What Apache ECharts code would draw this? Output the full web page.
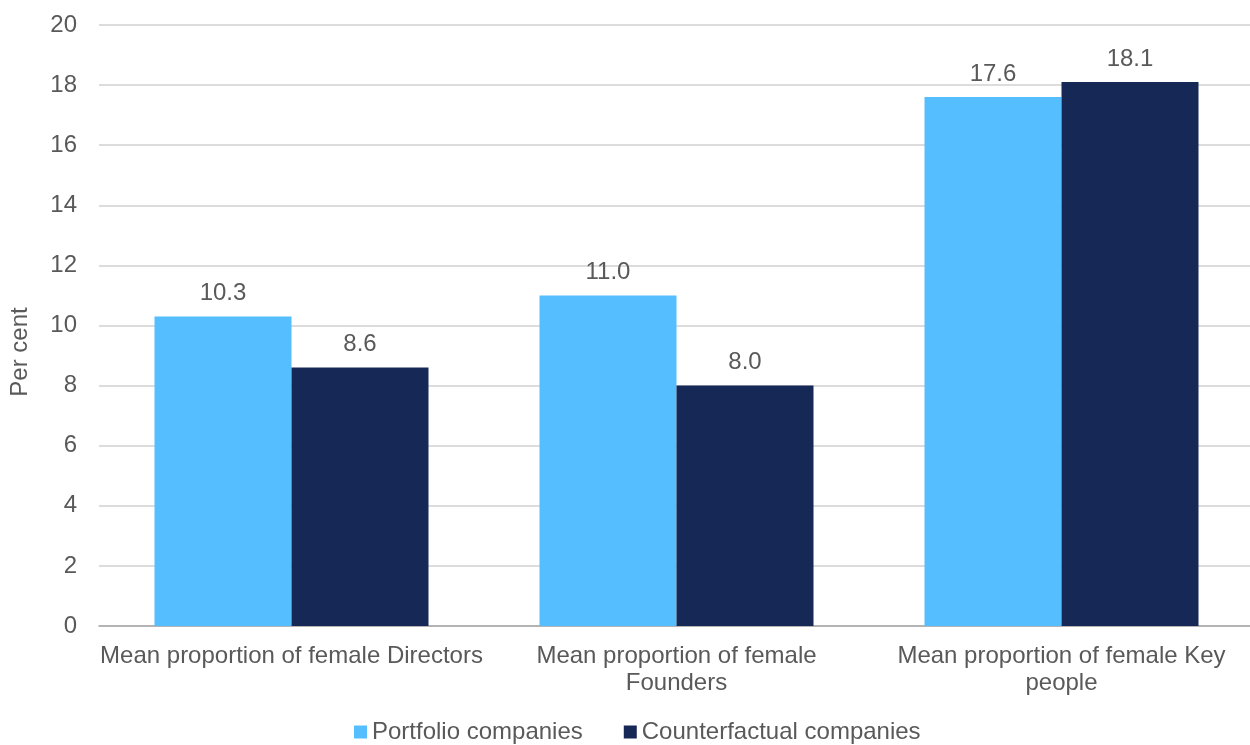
<!DOCTYPE html>
<html>
<head>
<meta charset="utf-8">
<script src="https://cdn.jsdelivr.net/npm/echarts@6/dist/echarts.min.js"></script>
<style>
  html, body { margin: 0; padding: 0; background: #ffffff; overflow: hidden; }
  #chart { width: 1254px; height: 745px; }
</style>
</head>
<body>
<div id="chart"></div>
<script>
// Categories and values (per cent)
const categories = [
  'Mean proportion of female Directors',
  'Mean proportion of female\nFounders',
  'Mean proportion of female Key\npeople'
];
const portfolio = [10.3, 11.0, 17.6];
const counterfactual = [8.6, 8.0, 18.1];
const seriesNames = ['Portfolio companies', 'Counterfactual companies'];
const yTicks = { min: 0, max: 20, interval: 2 };

const textColor = '#595959';
const fontFamily = '"Liberation Sans", Arial, sans-serif';
const fontSize = 24;

const chart = echarts.init(document.getElementById('chart'));

const valueLabel = {
  show: true,
  position: 'top',
  distance: 11,
  color: textColor,
  fontFamily: fontFamily,
  fontSize: fontSize,
  formatter: p => p.value.toFixed(1)
};

chart.setOption({
  animation: false,
  textStyle: { fontFamily: fontFamily },
  grid: { left: 99, right: 0, top: 25, height: 601, containLabel: false },
  legend: {
    top: 715,
    left: 349,
    itemWidth: 13,
    itemHeight: 13,
    itemGap: 41,
    icon: 'rect',
    textStyle: { color: textColor, fontSize: fontSize, fontFamily: fontFamily },
    data: seriesNames
  },
  graphic: [{
    type: 'text',
    x: 8,
    y: 352,
    rotation: Math.PI / 2,
    style: {
      text: 'Per cent',
      fill: textColor,
      font: fontSize + 'px ' + fontFamily,
      textAlign: 'center',
      textVerticalAlign: 'top'
    }
  }],
  xAxis: {
    type: 'category',
    data: categories,
    axisLine: { show: true, lineStyle: { color: '#a6a6a6', width: 1.5 } },
    axisTick: { show: false },
    axisLabel: {
      color: textColor,
      fontSize: fontSize,
      fontFamily: fontFamily,
      margin: 17,
      lineHeight: 27,
      interval: 0
    }
  },
  yAxis: {
    type: 'value',
    min: yTicks.min,
    max: yTicks.max,
    interval: yTicks.interval,
    axisLine: { show: false },
    axisTick: { show: false },
    splitLine: { lineStyle: { color: '#d0d0d0', width: 1.5 } },
    axisLabel: {
      color: textColor,
      fontSize: fontSize,
      fontFamily: fontFamily,
      margin: 22
    }
  },
  series: [
    {
      name: seriesNames[0],
      type: 'bar',
      data: portfolio,
      barWidth: 137,
      barGap: '0%',
      itemStyle: { color: '#55BEFF' },
      label: valueLabel
    },
    {
      name: seriesNames[1],
      type: 'bar',
      data: counterfactual,
      barWidth: 137,
      barGap: '0%',
      itemStyle: { color: '#162855' },
      label: valueLabel
    }
  ]
});
</script>
</body>
</html>
